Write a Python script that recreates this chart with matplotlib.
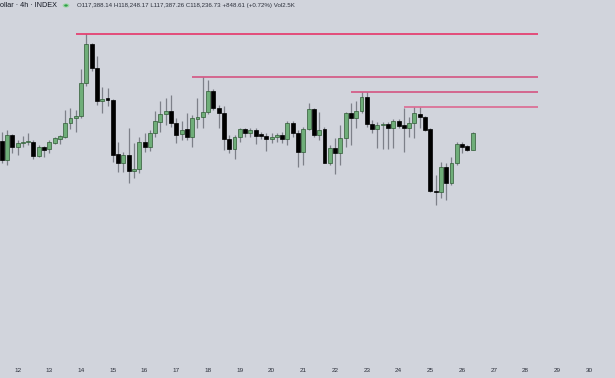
import matplotlib
matplotlib.use("Agg")
import matplotlib.pyplot as plt
import numpy as np

# ---- data (4h candles, price units) ----
opens = [117845,116899,118124,117536,117747,117757,117796,117095,117551,117423,
         117747,117943,118011,118697,118957,119055,120657,122583,121392,119805,
         119922,119839,117178,116767,117144,116375,116443,117796,117521,118207,
         118776,119138,119300,118697,118158,118403,118041,118908,119006,119266,
         120280,119432,119217,117928,117423,118011,118403,118237,118369,118158,
         118090,117928,118011,118124,117913,118697,118237,117306,118403,119383,
         118124,118403,116767,117472,117227,117962,119217,118942,119300,119971,
         118663,118403,118599,118663,118482,118810,118614,118482,118697,119153,
         119021,118418,115395,115346,116541,115757,116767,117668,117585,117388.14]
highs = [118286,118369,118149,117879,118075,118222,117879,117634,117585,117879,
         118041,118124,119349,119447,119349,121358,123058,122632,121995,120461,
         120427,119864,117796,117306,118452,117717,118026,118237,118369,119315,
         119805,119922,120084,118942,118825,119187,119104,119922,120981,120819,
         120378,119594,119560,118124,118124,118482,118482,118452,118452,118286,
         118207,118207,118237,118271,118825,118825,118369,118531,119677,119432,
         119236,118531,117634,117962,118614,119266,119677,119805,120246,120246,
         118859,118776,118776,118776,118908,118908,119432,119021,119511,119511,
         119070,118482,116164,116816,116737,117061,117796,117796,117634,118248.17]
lows = [116752,116654,117242,117144,117536,117634,116948,117046,117046,117242,
        117683,117683,117977,118418,118286,118957,120540,121260,119594,119217,
        119545,116816,116326,116326,115757,116002,116247,117306,117355,118041,
        118286,118614,118531,117747,117879,117879,117551,118482,118452,119138,
        119349,118452,117389,117227,116933,117796,118041,118041,117683,117928,
        117355,117717,117796,117732,117634,118041,116571,116654,118369,118041,
        117879,116737,116654,116213,116654,117551,117634,118452,119202,118531,
        118207,117472,117438,117438,117472,118452,117276,118041,117962,118452,
        118320,115346,114694,115022,114939,115674,116654,117227,117340,117387.26]
closes = [116899,118124,117521,117732,117781,117806,117095,117551,117389,117766,
          117962,118075,118697,118957,119055,120657,122583,121392,119805,119888,
          119839,117144,116767,117144,116375,116443,117766,117521,118207,118810,
          119138,119300,118697,118124,118369,118011,118942,119021,119266,120295,
          119432,119217,117928,117438,118011,118403,118237,118369,118090,118060,
          117928,118041,118124,117928,118697,118237,117306,118403,119383,118124,
          118369,116767,117472,117227,117962,119187,118942,119300,119971,118663,
          118403,118614,118648,118452,118810,118565,118482,118697,119187,119021,
          118369,115395,115316,116541,115757,116767,117668,117551,117389,118236.73]

day_labels = ["12","13","14","15","16","17","18","19","20","21",
              "22","23","24","25","26","27","28","29","30"]
first_day_index = 3          # candle index of 12th 00:00
candles_per_day = 6

level_prices = [123058, 120981, 120246, 119511]
level_starts = [14, 36, 66, 76]
level_end = 101.3
level_colors = ["#e8275f", "#d4497a", "#d4497a", "#de5f8a"]

title_text = "ollar · 4h · INDEX"
ohlc_text = "O117,388.14 H118,248.17 L117,387.26 C118,236.73 +848.61 (+0.72%) Vol2.5K"

# ---- figure ----
bg = "#d1d4dc"
fig = plt.figure(figsize=(6.15, 3.78), dpi=100)
fig.patch.set_facecolor(bg)
ax = fig.add_axes([0, 16/378, 1, 362/378])
ax.set_facecolor(bg)

n = len(opens)
x = np.arange(n)
o = np.array(opens); h = np.array(highs); l = np.array(lows); c = np.array(closes)
up = c >= o

ax.vlines(x, l, h, color="#7d8089", linewidth=0.9, zorder=2)
bottom = np.minimum(o, c)
height = np.maximum(np.abs(c - o), 50)
ax.bar(x[up], height[up], bottom=bottom[up], width=0.74,
       color="#6fae79", edgecolor="#2f5a35", linewidth=0.5, zorder=3)
ax.bar(x[~up], height[~up], bottom=bottom[~up], width=0.74,
       color="#000000", edgecolor="#000000", linewidth=0.5, zorder=3)

for p, s, col in zip(level_prices, level_starts, level_colors):
    ax.hlines(p, s, level_end, color=col, linewidth=1.1, zorder=4)

ax.set_xlim(-0.32, 115.9)
ax.set_ylim(124739 - 49 * 362, 124739)

ticks = [first_day_index + candles_per_day * k for k in range(len(day_labels))]
ax.set_xticks(ticks)
ax.set_xticklabels(day_labels, fontsize=4.6, color="#2a2e39", family="Liberation Sans")
ax.tick_params(axis="x", length=0, pad=4.5)
ax.set_yticks([])
for sp in ax.spines.values():
    sp.set_visible(False)

fig.text(0.0, 1 - 5.5/378, title_text, fontsize=5.2, color="#131722",
         family="Liberation Sans", va="center", ha="left")
fig.patches.append(matplotlib.patches.Circle((66/615, 1 - 5.5/378), 3.4/615,
                   transform=fig.transFigure, facecolor="#9ed6a6", edgecolor="none",
                   figure=fig))
fig.patches.append(matplotlib.patches.Circle((66/615, 1 - 5.5/378), 1.8/615,
                   transform=fig.transFigure, facecolor="#2e9e48", edgecolor="none",
                   figure=fig))
fig.text(77/615, 1 - 5.5/378, ohlc_text, fontsize=4.4, color="#2a2e39",
         family="Liberation Sans", va="center", ha="left")

fig.savefig("out.png", dpi=100, facecolor=bg)
